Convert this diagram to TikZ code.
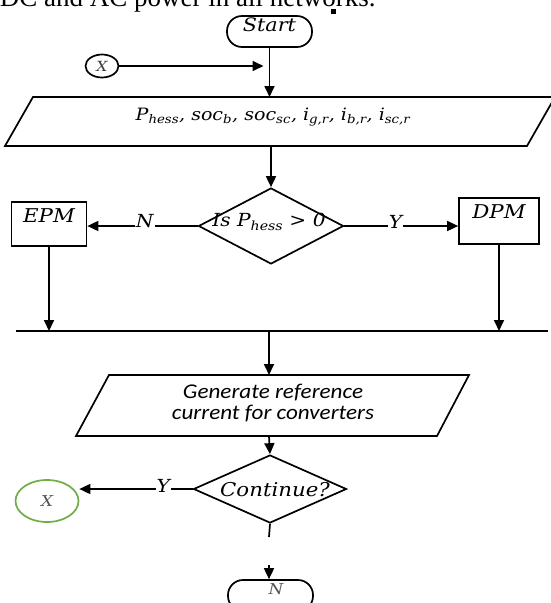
\documentclass[tikz,border=0pt]{standalone}
\usepackage{fontspec}
\usetikzlibrary{shapes.geometric,arrows.meta,calc}
\newfontfamily\dvs[FakeStretch=1.12]{DejaVu Serif}
\newfontfamily\carl[FakeStretch=1.1]{Carlito}
\newfontfamily\lser{Liberation Serif}
\definecolor{gxgreen}{HTML}{70AD47}
\definecolor{xgray}{HTML}{555555}
\begin{document}
\begin{tikzpicture}[x=1pt,y=-1pt, line width=1.7pt,
  arr/.style={-{Triangle[length=11pt,width=10pt]}},
  lbl/.style={inner sep=1pt},
  fa/.style={font=\dvs\itshape\fontsize{#1}{#1}\selectfont},
  term/.style={draw, rounded corners=15pt, minimum width=85pt, minimum height=31pt, inner sep=0pt},
  boxx/.style={draw, inner sep=0pt},
  dia/.style={draw, diamond, inner sep=0pt}]
\useasboundingbox (0,0) rectangle (551,603);
\clip (0,0) rectangle (551,603);
\fill[white] (0,0) rectangle (551,603);

% header (cut)
\node[anchor=base west, inner sep=0pt, font=\lser\fontsize{27}{30}\selectfont] (hdr) at (-1,6) {DC and AC power in all networks.};
\fill (331,9) rectangle (336,14);

% start
\node[term] (start) at (269.5,31.5) {};
\node[lbl, fa=18.5] (starttxt) at (269.5,25) {Start};

% connector X
\node[draw, ellipse, minimum width=33pt, minimum height=23pt, inner sep=0pt, fa=14, text=xgray!70!black] (x1) at (102,66) {X};

% parallelogram 1
\coordinate (p1a) at (5,146);
\coordinate (p1b) at (527,146);
\coordinate (p1c) at (555,97);
\coordinate (p1d) at (33,97);
\draw (p1a) -- (p1b) -- (p1c) -- (p1d) -- cycle;
\node[lbl, fa=17] (p1txt) at (273,117) {P\textsubscript{hess}, soc\textsubscript{b}, soc\textsubscript{sc}, i\textsubscript{g,r}, i\textsubscript{b,r}, i\textsubscript{sc,r}};
\coordinate (p1bot) at (271,146);

\draw[arr] (start) -- (start |- p1d);
\draw[arr, shorten >=6pt] (x1) -- (x1 -| start);

% decision 1
\node[dia, minimum width=145pt, minimum height=76pt] (d1) at (271,226) {};
\node[lbl, fa=18] (d1txt) at (269,222) {Is P\textsubscript{hess} > 0};
\draw[arr] (p1bot) -- (d1.north);

% EPM / DPM
\node[boxx, minimum width=75pt, minimum height=44pt] (epm) at (49,224) {};
\node[lbl, fa=19] (epmtxt) at (49,216) {EPM};
\node[boxx, minimum width=80pt, minimum height=46pt] (dpm) at (499,221) {};
\node[lbl, fa=19] (dpmtxt) at (499,212) {DPM};

\draw[arr] (d1.west) -- (epm.east |- d1.west) node[pos=0.48, fill=white, lbl, fa=18, yshift=5pt] (nlab) {N};
\draw[arr] (d1.east) -- (dpm.west |- d1.east) node[pos=0.45, fill=white, lbl, fa=18, yshift=4pt] (ylab) {Y};

% bar
\coordinate (barL) at (16,331);
\coordinate (barR) at (548,331);
\coordinate (barC) at (269,331);
\draw (barL) -- (barR);
\draw[arr] (epm) -- (epm |- barL);
\draw[arr] (dpm) -- (dpm |- barL);

% parallelogram 2
\coordinate (p2a) at (76,436);
\coordinate (p2b) at (437,436);
\coordinate (p2c) at (469,375);
\coordinate (p2d) at (109,375);
\draw (p2a) -- (p2b) -- (p2c) -- (p2d) -- cycle;
\node[lbl, align=center, font=\carl\itshape\fontsize{21}{21}\selectfont] (p2txt) at (273,403) {Generate reference\\current for converters};
\draw[arr] (barC) -- (barC |- p2d);

% decision 2
\node[dia, minimum width=153pt, minimum height=68pt] (d2) at (270,489) {};
\node[lbl, fa=19] (d2txt) at (275,490) {Continue?};
\draw[arr] (barC |- p2a) -- (d2.north);

\node[draw=gxgreen, ellipse, minimum width=63pt, minimum height=42pt, inner sep=0pt, fa=15, text=xgray] (xg) at (47,501) {X};
\draw[arr] (d2.west) -- (xg.east |- d2.west) node[pos=0.26, fill=white, lbl, fa=18, yshift=3pt] (ylab2) {Y};

% end
\coordinate (d2stub) at (269,537);
\draw (d2.south) -- (d2stub);
\coordinate (endin) at (269,565);
\node[term] (endt) at (270.5,595.5) {};
\node[lbl, fa=15, text=xgray] (endtxt) at (276,589) {N};
\draw[arr] (endin) -- (endin |- endt.north);
\end{tikzpicture}
\end{document}
